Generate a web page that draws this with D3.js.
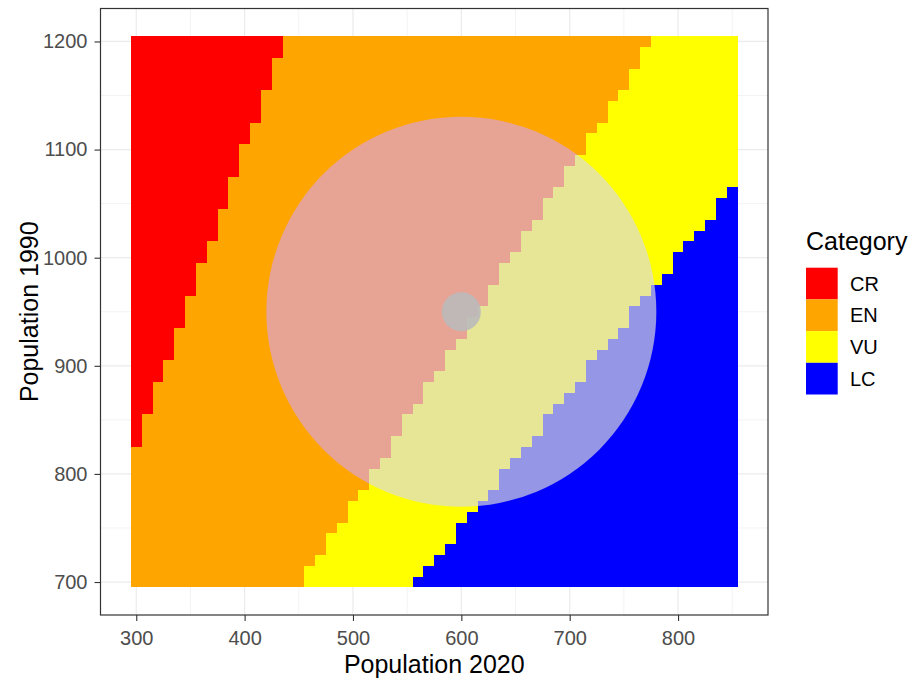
<!DOCTYPE html>
<html>
<head>
<meta charset="utf-8">
<script src="https://cdn.jsdelivr.net/npm/d3@7"></script>
<style>
  body { margin: 0; background: #fff; }
  svg { display: block; font-family: 'Liberation Sans', Arial, sans-serif; }
  .tick text { fill: #4d4d4d; font-size: 20px; }
  .tick line { stroke: #333; stroke-width: 1.1px; }
  .axis-title { fill: #000; font-size: 25px; }
  .legend-title { fill: #000; font-size: 25px; }
  .legend-label { fill: #000; font-size: 20px; }
</style>
</head>
<body>
<div id="chart"></div>
<script>
// grid of population counts, one cell every 10
const pop2020 = [300, 310, 320, 330, 340, 350, 360, 370, 380, 390,
                 400, 410, 420, 430, 440, 450, 460, 470, 480, 490,
                 500, 510, 520, 530, 540, 550, 560, 570, 580, 590,
                 600, 610, 620, 630, 640, 650, 660, 670, 680, 690,
                 700, 710, 720, 730, 740, 750, 760, 770, 780, 790,
                 800, 810, 820, 830, 840, 850];
const pop1990 = [700, 710, 720, 730, 740, 750, 760, 770, 780, 790,
                 800, 810, 820, 830, 840, 850, 860, 870, 880, 890,
                 900, 910, 920, 930, 940, 950, 960, 970, 980, 990,
                 1000, 1010, 1020, 1030, 1040, 1050, 1060, 1070, 1080, 1090,
                 1100, 1110, 1120, 1130, 1140, 1150, 1160, 1170, 1180, 1190,
                 1200];

// for each pop1990 row (bottom up): first pop2020 column that is EN, VU, LC
const enFrom = [300, 300, 300, 300, 300, 300, 300, 300, 300, 300,
                300, 300, 300, 310, 310, 310, 320, 320, 320, 330,
                330, 340, 340, 340, 350, 350, 350, 360, 360, 360,
                370, 370, 380, 380, 380, 390, 390, 390, 400, 400,
                400, 410, 410, 420, 420, 420, 430, 430, 430, 440,
                440];
const vuFrom = [460, 460, 470, 480, 480, 490, 500, 500, 510, 520,
                520, 530, 540, 540, 550, 550, 560, 570, 570, 580,
                590, 590, 600, 610, 610, 620, 630, 630, 640, 640,
                650, 660, 660, 670, 680, 680, 690, 700, 700, 710,
                720, 720, 730, 740, 740, 750, 760, 760, 770, 770,
                780];
// null = the row never reaches LC
const lcFrom = [560, 570, 580, 590, 600, 600, 610, 620, 630, 640,
                640, 650, 660, 670, 680, 680, 690, 700, 710, 720,
                720, 730, 740, 750, 760, 760, 770, 780, 790, 800,
                800, 810, 820, 830, 840, 840, 850, null, null, null,
                null, null, null, null, null, null, null, null, null, null,
                null];

const categories = ['CR', 'EN', 'VU', 'LC'];
const categoryColors = ['#ff0000', '#ffa500', '#ffff00', '#0000ff'];
// how each category looks under the big translucent point
const veiledColors = ['#e69595', '#e7a394', '#e6e696', '#9696e6'];

// the highlighted population
const focus2020 = [600];
const focus1990 = [950];

const xTicks = [300, 400, 500, 600, 700, 800];
const yTicks = [700, 800, 900, 1000, 1100, 1200];

const width = 914, height = 680;
const panel = { left: 100.5, right: 768, top: 8.5, bottom: 615 };

const svg = d3.select('#chart').append('svg')
  .attr('width', width)
  .attr('height', height);

// ggplot style: tile range plus 5% padding each side
const x = d3.scaleLinear().domain([267, 883]).range([panel.left, panel.right]);
const y = d3.scaleLinear().domain([669.5, 1230.5]).range([panel.bottom, panel.top]);
const color = d3.scaleOrdinal().domain(categories).range(categoryColors);
const veil = d3.scaleOrdinal().domain(categories).range(veiledColors);

// build one cell per grid point
const cells = [];
pop1990.forEach(function(p90, i) {
  pop2020.forEach(function(p20) {
    let cat = 'CR';
    if (p20 >= enFrom[i]) cat = 'EN';
    if (p20 >= vuFrom[i]) cat = 'VU';
    if (lcFrom[i] !== null && p20 >= lcFrom[i]) cat = 'LC';
    cells.push({ p20: p20, p90: p90, cat: cat });
  });
});

// grid lines, minor first
const xMinor = x.ticks(12).filter(function(d) { return xTicks.indexOf(d) < 0; });
const yMinor = y.ticks(12).filter(function(d) { return yTicks.indexOf(d) < 0; });
const grid = svg.append('g').attr('stroke', '#ebebeb');
grid.selectAll('.xminor').data(xMinor).enter().append('line')
  .attr('x1', x).attr('x2', x).attr('y1', panel.top).attr('y2', panel.bottom)
  .attr('stroke-width', 0.6);
grid.selectAll('.yminor').data(yMinor).enter().append('line')
  .attr('y1', y).attr('y2', y).attr('x1', panel.left).attr('x2', panel.right)
  .attr('stroke-width', 0.6);
grid.selectAll('.xmajor').data(xTicks).enter().append('line')
  .attr('x1', x).attr('x2', x).attr('y1', panel.top).attr('y2', panel.bottom)
  .attr('stroke-width', 1.2);
grid.selectAll('.ymajor').data(yTicks).enter().append('line')
  .attr('y1', y).attr('y2', y).attr('x1', panel.left).attr('x2', panel.right)
  .attr('stroke-width', 1.2);

function drawTiles(group, fill) {
  group.selectAll('rect')
      .data(cells)
    .enter().append('rect')
      .attr('x', function(d) { return x(d.p20 - 5); })
      .attr('y', function(d) { return y(d.p90 + 5); })
      .attr('width', function(d) { return x(d.p20 + 5) - x(d.p20 - 5); })
      .attr('height', function(d) { return y(d.p90 - 5) - y(d.p90 + 5); })
      .attr('fill', function(d) { return fill(d.cat); })
      .attr('shape-rendering', 'crispEdges');
}

drawTiles(svg.append('g'), color);

// the big translucent point: tiles under it are drawn again, veiled
const bigRadius = 195;
svg.append('clipPath')
    .attr('id', 'focus-clip')
  .selectAll('circle')
    .data(focus2020)
  .enter().append('circle')
    .attr('cx', function(d) { return x(d); })
    .attr('cy', function(d, i) { return y(focus1990[i]); })
    .attr('r', bigRadius);
drawTiles(svg.append('g').attr('clip-path', 'url(#focus-clip)'), veil);

// small grey point in the centre
svg.append('g').selectAll('circle')
    .data(focus2020)
  .enter().append('circle')
    .attr('cx', function(d) { return x(d); })
    .attr('cy', function(d, i) { return y(focus1990[i]); })
    .attr('r', 19.5)
    .attr('fill', '#bababa')
    .attr('fill-opacity', 0.9);

// panel border
svg.append('rect')
  .attr('x', panel.left).attr('y', panel.top)
  .attr('width', panel.right - panel.left)
  .attr('height', panel.bottom - panel.top)
  .attr('fill', 'none')
  .attr('stroke', '#333')
  .attr('stroke-width', 1.2);

// axes, plain integer labels
const xAxis = svg.append('g')
  .attr('transform', `translate(0, ${panel.bottom})`)
  .call(d3.axisBottom(x).tickValues(xTicks).tickFormat(d3.format('d'))
    .tickSize(6).tickPadding(10));
const yAxis = svg.append('g')
  .attr('transform', `translate(${panel.left}, 0)`)
  .call(d3.axisLeft(y).tickValues(yTicks).tickFormat(d3.format('d'))
    .tickSize(6).tickPadding(7));
xAxis.select('.domain').remove();
yAxis.select('.domain').remove();
svg.selectAll('.tick text').attr('font-family', null).attr('font-size', null);

svg.append('text')
  .attr('class', 'axis-title')
  .attr('x', (panel.left + panel.right) / 2)
  .attr('y', 673)
  .attr('text-anchor', 'middle')
  .text('Population 2020');

svg.append('text')
  .attr('class', 'axis-title')
  .attr('transform', `translate(38, ${(panel.top + panel.bottom) / 2}) rotate(-90)`)
  .attr('text-anchor', 'middle')
  .text('Population 1990');

// legend
const legend = svg.append('g').attr('transform', 'translate(806, 250)');
legend.append('text')
  .attr('class', 'legend-title')
  .attr('x', 0)
  .attr('y', 0)
  .text('Category');

const keySize = 31.7;
const keys = legend.selectAll('.key')
    .data(categories)
  .enter().append('g')
    .attr('class', 'key')
    .attr('transform', function(d, i) { return `translate(0, ${17.7 + i * keySize})`; });
keys.append('rect')
  .attr('width', 31.7)
  .attr('height', keySize)
  .attr('fill', function(d) { return color(d); });
keys.append('text')
  .attr('class', 'legend-label')
  .attr('x', 44)
  .attr('y', keySize / 2)
  .attr('dy', '0.36em')
  .text(function(d) { return d; });
</script>
</body>
</html>
